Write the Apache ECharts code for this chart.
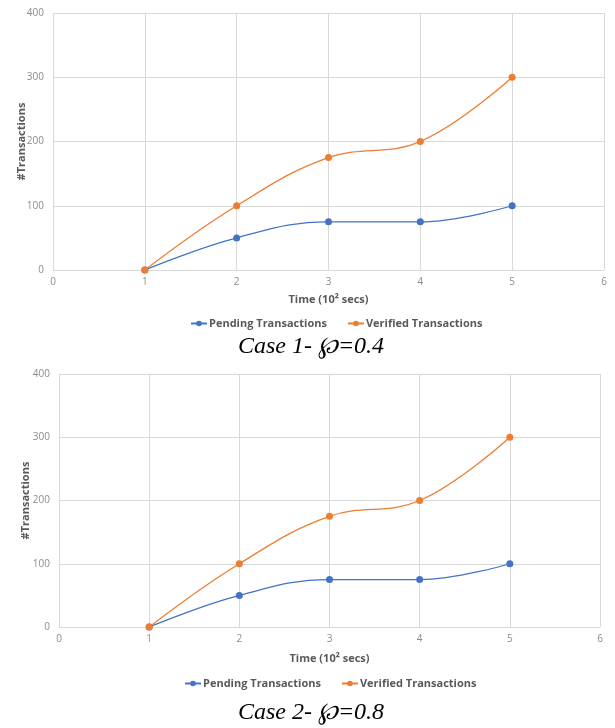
<!DOCTYPE html>
<html>
<head>
<meta charset="utf-8">
<script src="https://cdn.jsdelivr.net/npm/echarts@6/dist/echarts.min.js"></script>
<style>
  html, body { margin: 0; padding: 0; background: #fff; }
  #main { width: 615px; height: 728px; }
</style>
</head>
<body>
<div id="main"></div>
<script>
// time points (10^2 secs)
var timePoints = [1, 2, 3, 4, 5];
// case 1
var pending1 = [0, 50, 75, 75, 100];
var verified1 = [0, 100, 175, 200, 300];
// case 2
var pending2 = [0, 50, 75, 75, 100];
var verified2 = [0, 100, 175, 200, 300];
var captions = ['Case 1- \u2118=0.4', 'Case 2- \u2118=0.8'];

var blue = '#4472C4';
var orange = '#ED7D31';
var gridColor = '#d9d9d9';
var labelColor = '#8c8c8c';
var titleFont = '"Open Sans", sans-serif';

function pairs(vals) {
    return timePoints.map(function (t, i) { return [t, vals[i]]; });
}

function xAxisOf(idx, gap) {
    return {
        gridIndex: idx,
        type: 'value',
        min: 0, max: 6, interval: 1,
        name: 'Time (10\u00B2 secs)',
        nameLocation: 'middle',
        nameGap: gap,
        nameTextStyle: { color: '#595959', fontSize: 11, fontWeight: 'bold', fontFamily: titleFont },
        axisLine: { show: false },
        axisTick: { show: false },
        axisLabel: { color: labelColor, fontSize: 10, margin: 7, fontFamily: 'Open Sans' },
        splitLine: { show: true, lineStyle: { color: gridColor, width: 1 } }
    };
}
function yAxisOf(idx, gap) {
    return {
        gridIndex: idx,
        type: 'value',
        min: 0, max: 400, interval: 100,
        name: '#Transactions',
        nameLocation: 'middle',
        nameGap: gap,
        nameMoveOverlap: false,
        nameRotate: 90,
        nameTextStyle: { color: '#595959', fontSize: 11, fontWeight: 'bold', fontFamily: titleFont },
        axisLine: { show: false },
        axisTick: { show: false },
        axisLabel: { color: labelColor, fontSize: 10, margin: 9, fontFamily: 'Open Sans' },
        splitLine: { show: true, lineStyle: { color: gridColor, width: 1 } }
    };
}
function lineOf(name, vals, color, idx) {
    return {
        name: name,
        type: 'line',
        xAxisIndex: idx,
        yAxisIndex: idx,
        data: pairs(vals),
        smooth: 0.4,
        symbol: 'circle',
        symbolSize: 7,
        lineStyle: { color: color, width: 1.3 },
        itemStyle: { color: color }
    };
}
function legendOf(top, left) {
    return {
        top: top,
        left: left,
        padding: 0,
        itemWidth: 16,
        itemHeight: 7,
        itemGap: 20,
        data: ['Pending Transactions', 'Verified Transactions'],
        textStyle: { color: '#595959', fontSize: 11, fontWeight: 'bold', fontFamily: titleFont, padding: [0, 0, 0, -3] }
    };
}

var myChart = echarts.init(document.getElementById('main'));
var option = {
    animation: false,
    backgroundColor: '#fff',
    grid: [
        { left: 53, right: 11, top: 13, height: 257, containLabel: false },
        { left: 59, right: 15, top: 374, height: 253, containLabel: false }
    ],
    xAxis: [xAxisOf(0, 24), xAxisOf(1, 26)],
    yAxis: [yAxisOf(0, 26), yAxisOf(1, 28)],
    legend: [legendOf(318, 190), legendOf(678, 184)],
    title: [
        { text: captions[0], left: 311, top: 335, padding: 0, textAlign: 'center',
          textStyle: { fontFamily: 'Liberation Serif', fontStyle: 'italic', fontWeight: 'normal', fontSize: 24, color: '#000' } },
        { text: captions[1], left: 311, top: 701, padding: 0, textAlign: 'center',
          textStyle: { fontFamily: 'Liberation Serif', fontStyle: 'italic', fontWeight: 'normal', fontSize: 24, color: '#000' } }
    ],
    series: [
        lineOf('Pending Transactions', pending1, blue, 0),
        lineOf('Verified Transactions', verified1, orange, 0),
        lineOf('Pending Transactions', pending2, blue, 1),
        lineOf('Verified Transactions', verified2, orange, 1)
    ]
};
myChart.setOption(option);
</script>
</body>
</html>
